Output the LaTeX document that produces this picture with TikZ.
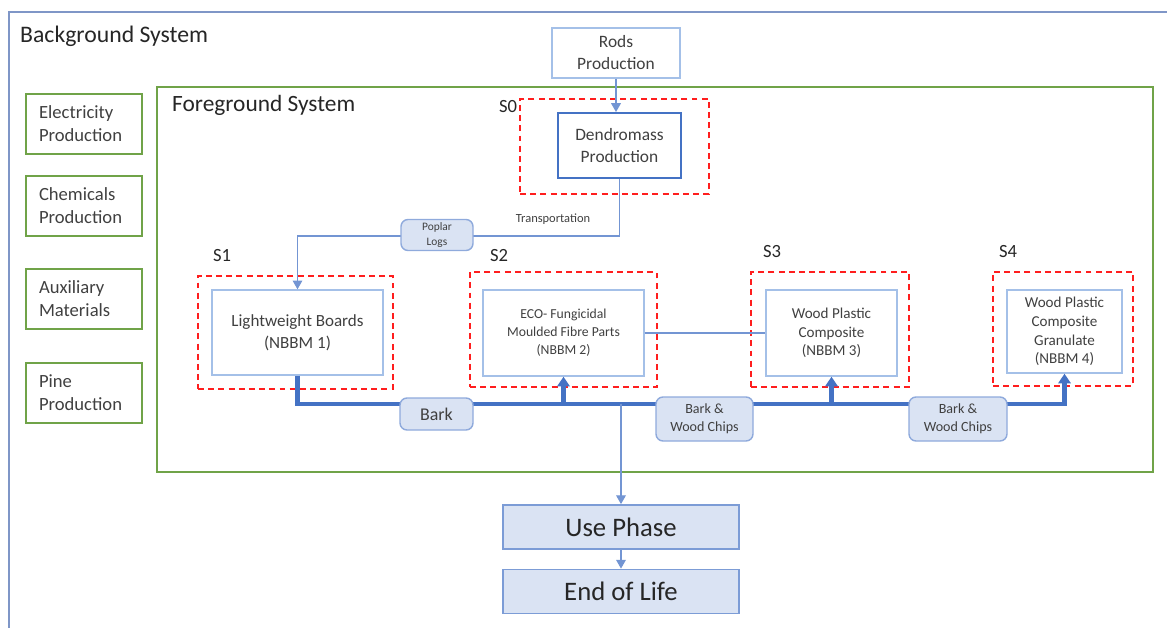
\documentclass[tikz,border=0pt]{standalone}
\usepackage{fontspec}
\setmainfont{Carlito}
\usetikzlibrary{arrows.meta,positioning}
\definecolor{bgline}{RGB}{127,150,199}
\definecolor{fgline}{RGB}{112,163,72}
\definecolor{boxline}{RGB}{164,192,232}
\definecolor{darkline}{RGB}{68,114,196}
\definecolor{tagfill}{RGB}{218,227,243}
\definecolor{tagline}{RGB}{143,170,220}
\definecolor{sysred}{RGB}{255,30,30}
\definecolor{txt}{RGB}{64,64,64}

\begin{document}
\begin{tikzpicture}[x=0.02cm,y=-0.02cm,
		sz/.style 2 args={minimum width=#1*0.02cm,minimum height=#2*0.02cm},
		fs/.style 2 args={font=\fontsize{#1}{#2}\selectfont},
		box/.style={draw=boxline,line width=0.8pt,fill=white,text=txt,align=center,inner sep=0pt},
		grnbox/.style={draw=fgline,line width=0.9pt,text=txt,align=left,text width=1.8cm,inner sep=0pt,sz={116}{60},fs={10.6}{13}},
		sysbox/.style={draw=sysred,line width=1.1pt,dash pattern=on 3.4pt off 2.4pt,sz={#1}{115}},
		tag/.style={draw=tagline,fill=tagfill,rounded corners=4pt,line width=0.8pt,text=txt,align=center,inner sep=0pt},
		phase/.style={draw=darkline!70,fill=tagfill,line width=1pt,text=black!85,sz={236}{44},fs={15.2}{18}},
		thin/.style={draw=darkline!75,line width=0.7pt},
		thinarr/.style={thin,-{Triangle[length=5pt,width=5.5pt]}},
		bus/.style={draw=darkline,line width=2.3pt},
		busarr/.style={bus,-{Triangle[length=5.5pt,width=7pt]}},
		slabel/.style={text=black!85,fs={10.6}{13}}
	]
	\useasboundingbox (0,0) rectangle (1167,628);
	\draw[bgline,line width=1.1pt] (9,628) -- (9,12) -- (1167,12);
	\node[anchor=west,text=black!85,fs={13.5}{16}] (bgtitle) at (14,36) {Background System};

	\node[draw=fgline,line width=0.9pt,sz={996}{385}] (fg) at (655,279.5) {};
	\node[anchor=west,text=black!85,fs={13.3}{16}] (fgtitle) at (166,105) {Foreground System};

	\node[grnbox] (elec) at (84,124) {Electricity\\Production};
	\node[grnbox] (chem) at (84,206) {Chemicals\\Production};
	\node[grnbox] (aux) at (84,299) {Auxiliary\\Materials};
	\node[grnbox] (pine) at (84,393) {Pine\\Production};

	\node[box,sz={128}{50},fs={9.9}{12.5}] (rods) at (616,53) {Rods\\Production};

	\node[sysbox=189,minimum height=95*0.02cm] (s0) at (614.5,146.5) {};
	\node[sysbox=195,minimum height=113*0.02cm] (s1) at (295.5,332.5) {};
	\node[sysbox=187] (s2) at (563.5,329.5) {};
	\node[sysbox=158] (s3) at (830,329.5) {};
	\node[sysbox=140,minimum height=114*0.02cm] (s4) at (1063,329) {};
	\node[slabel] (s0lab) at (508,107) {S0};
	\node[slabel] (s1lab) at (222,256) {S1};
	\node[slabel] (s2lab) at (499,256) {S2};
	\node[slabel] (s3lab) at (772,252) {S3};
	\node[slabel] (s4lab) at (1008,252) {S4};

	\node[box,draw=darkline,line width=1.1pt,sz={123}{65},fs={9.9}{12.5}] (dendro) at (619.5,145.5) {Dendromass\\Production};
	\node[box,sz={171}{85},fs={9.7}{12.5}] (lwb) at (297.5,332.5) {Lightweight Boards\\(NBBM 1)};
	\node[box,sz={161}{86},fs={7.8}{10.2}] (eco) at (563.5,333) {ECO- Fungicidal\\Moulded Fibre Parts\\(NBBM 2)};
	\node[box,sz={131}{86},fs={8.6}{10.6}] (wpc) at (831.5,333) {Wood Plastic\\Composite\\(NBBM 3)};
	\node[box,sz={115}{83},fs={8.6}{10.6}] (wpcg) at (1064.5,331.5) {Wood Plastic\\Composite\\Granulate\\(NBBM 4)};

	\node[phase] (use) at (621,527) {Use Phase};
	\node[phase] (eol) at (621,591.5) {End of Life};

	\draw[thinarr] (rods) -- (rods |- dendro.north);
	\draw[thinarr] (dendro.south) -- ++(0,57) coordinate (bend) -| (lwb.north);
	\node[text=txt,fs={7.1}{9}] (transp) at (553,219) {Transportation};
	\draw[thin] (eco.east) -- (wpc.west);

	\draw[busarr] (lwb.south) -- ++(0,28) coordinate (busl) -| (wpcg.south);
	\draw[busarr] (eco.south |- busl) -- (eco.south);
	\draw[busarr] (wpc.south |- busl) -- (wpc.south);
	\draw[thinarr] (use.north |- busl) -- (use.north);
	\draw[thinarr] (use) -- (eol);

	\node[tag,sz={72}{31},fs={6.5}{8}] (poplar) at (437,235) {Poplar\\Logs};
	\node[tag,sz={73}{32},fs={10.2}{12}] (bark) at (436.5,414) {Bark};
	\node[tag,sz={97}{44},fs={8}{10}] (chips1) at (704.5,419) {Bark \&\\Wood Chips};
	\node[tag,sz={98}{44},fs={8}{10}] (chips2) at (958,419) {Bark \&\\Wood Chips};
\end{tikzpicture}
\end{document}
